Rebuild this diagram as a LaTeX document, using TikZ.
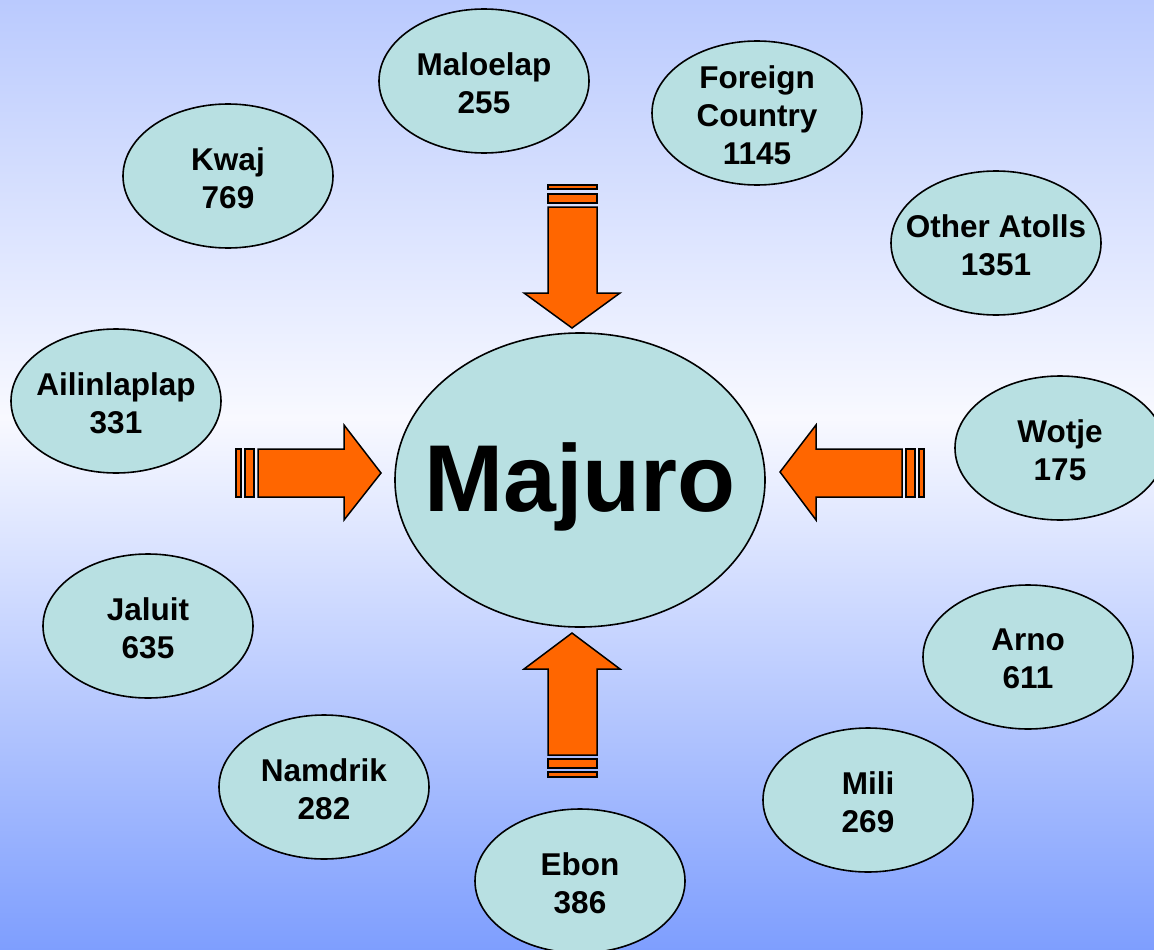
\documentclass[tikz,border=0pt]{standalone}
\usepackage{fontspec}
\setmainfont{Liberation Sans}
\usetikzlibrary{shapes.geometric}
\definecolor{bgtop}{HTML}{BACAFE}
\definecolor{bgmid}{HTML}{F8F9FF}
\definecolor{bgbot}{HTML}{7E9EFE}
\definecolor{atollfill}{HTML}{B8E0E2}
\definecolor{arroworange}{HTML}{FF6600}
\pgfdeclareverticalshading{bgshade}{100bp}{color(0bp)=(bgbot); color(25bp)=(bgbot); color(53bp)=(bgmid); color(75bp)=(bgtop); color(100bp)=(bgtop)}
\tikzset{
  atoll/.style={ellipse, draw=black, line width=1.6pt, fill=atollfill, minimum width=210pt, minimum height=144pt, inner sep=0pt},
  atolltext/.style={align=center, inner sep=0pt, yshift=-2pt, font=\bfseries\fontsize{31.5}{38}\selectfont},
  hub/.style={ellipse, draw=black, line width=1.6pt, fill=atollfill, minimum width=370pt, minimum height=294pt, inner sep=0pt},
  hubtext/.style={inner sep=0pt, yshift=-7pt, font=\bfseries\fontsize{95}{110}\selectfont},
  blockarrow/.style={fill=arroworange, draw=black, line width=1.5pt, line join=miter}
}
\begin{document}
\begin{tikzpicture}[x=1pt,y=-1pt]
\useasboundingbox (0,0) rectangle (1154,950);
\clip (0,0) rectangle (1154,950);
\shade[shading=bgshade] (0,0) rectangle (1154,950);

% block arrows
% top (pointing down)
\draw[blockarrow] (548,185) rectangle (597,189);
\draw[blockarrow] (548,194) rectangle (597,203);
\draw[blockarrow] (548,207) -- (597,207) -- (597,293) -- (620,293) -- (572,328) -- (524,293) -- (548,293) -- cycle;
% bottom (pointing up)
\draw[blockarrow] (548,772) rectangle (597,777);
\draw[blockarrow] (548,759) rectangle (597,768);
\draw[blockarrow] (548,755) -- (597,755) -- (597,669) -- (620,669) -- (572,633) -- (524,669) -- (548,669) -- cycle;
% left (pointing right)
\draw[blockarrow] (236,449) rectangle (241,497);
\draw[blockarrow] (245,449) rectangle (254,497);
\draw[blockarrow] (258,449) -- (344,449) -- (344,425) -- (381,473) -- (344,520) -- (344,497) -- (258,497) -- cycle;
% right (pointing left)
\draw[blockarrow] (919,449) rectangle (924,497);
\draw[blockarrow] (906,449) rectangle (915,497);
\draw[blockarrow] (902,449) -- (816,449) -- (816,425) -- (780,472) -- (816,520) -- (816,497) -- (902,497) -- cycle;

% hub
\node[hub] (majuro) at (580,480) {};
\node[hubtext] (majuro-t) at (majuro) {Majuro};

% atolls
\node[atoll] (maloelap) at (484,81) {};
\node[atolltext] (maloelap-t) at (maloelap) {Maloelap\\255};
\node[atoll] (foreign) at (757,113) {};
\node[atolltext] (foreign-t) at (foreign) {Foreign\\Country\\1145};
\node[atoll] (kwaj) at (228,176) {};
\node[atolltext] (kwaj-t) at (kwaj) {Kwaj\\769};
\node[atoll] (other) at (996,243) {};
\node[atolltext] (other-t) at (other) {Other Atolls\\1351};
\node[atoll] (ailinlaplap) at (116,401) {};
\node[atolltext] (ailinlaplap-t) at (ailinlaplap) {Ailinlaplap\\331};
\node[atoll] (wotje) at (1060,448) {};
\node[atolltext] (wotje-t) at (wotje) {Wotje\\175};
\node[atoll] (jaluit) at (148,626) {};
\node[atolltext] (jaluit-t) at (jaluit) {Jaluit\\635};
\node[atoll] (arno) at (1028,657) {};
\node[atolltext] (arno-t) at (arno) {Arno\\611};
\node[atoll] (namdrik) at (324,787) {};
\node[atolltext] (namdrik-t) at (namdrik) {Namdrik\\282};
\node[atoll] (mili) at (868,800) {};
\node[atolltext] (mili-t) at (mili) {Mili\\269};
\node[atoll] (ebon) at (580,881) {};
\node[atolltext] (ebon-t) at (ebon) {Ebon\\386};
\end{tikzpicture}
\end{document}
